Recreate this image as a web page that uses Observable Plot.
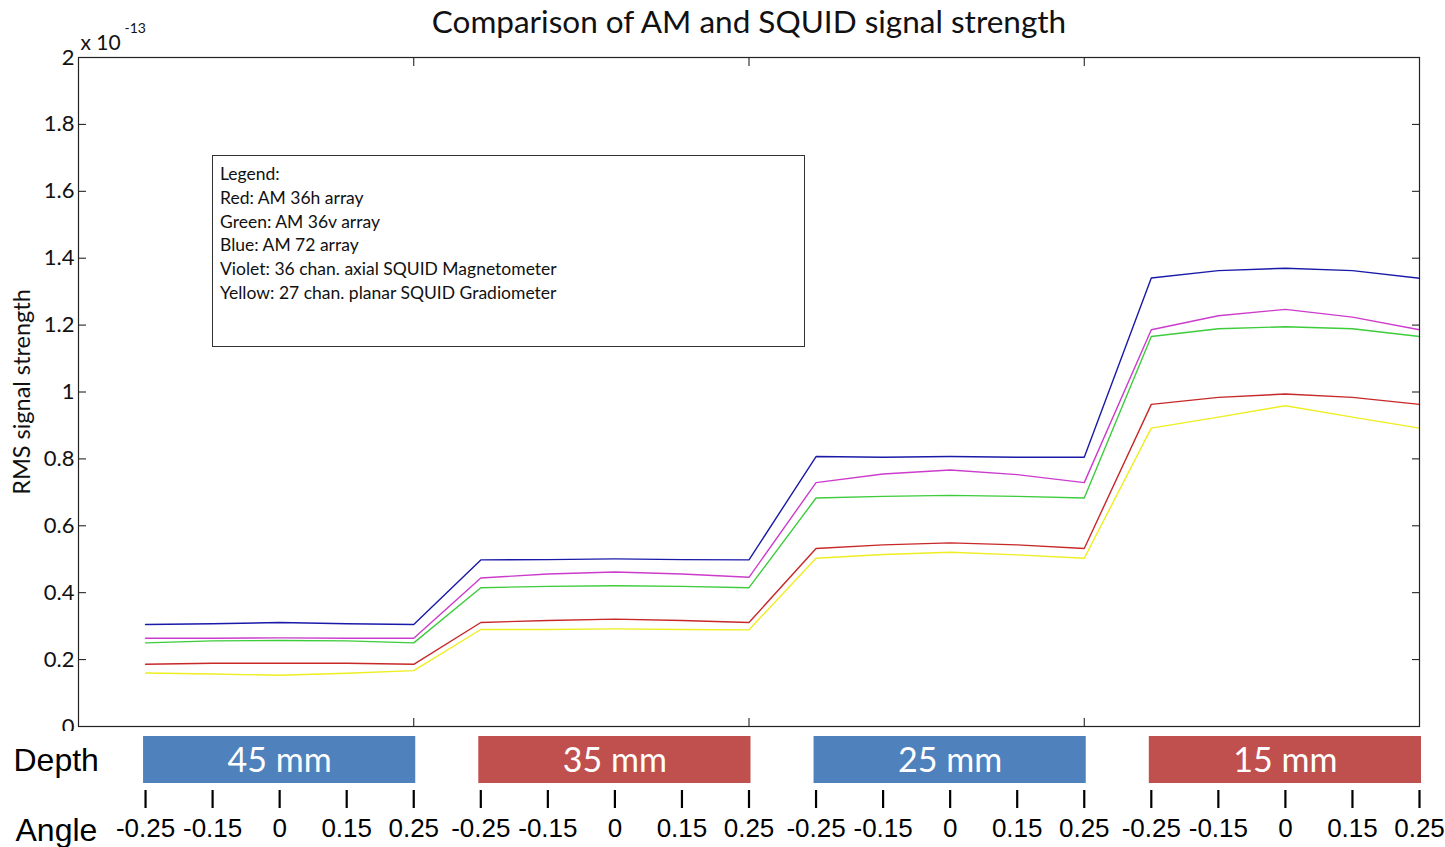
<!DOCTYPE html>
<html>
<head>
<meta charset="utf-8">
<script src="https://cdn.jsdelivr.net/npm/d3@7"></script>
<script src="https://cdn.jsdelivr.net/npm/@observablehq/plot@0.6"></script>
<style>
  html, body { margin: 0; padding: 0; background: white; }
  #wrap { position: relative; width: 1445px; height: 847px; overflow: hidden; background: white; }
  #legend {
    position: absolute; left: 212px; top: 155px; width: 593px; height: 192px;
    border: 1px solid #333; background: white;
    font-family: Lato, "Open Sans", sans-serif; font-size: 17.5px; color: #111;
    padding: 6px 0 0 7px; box-sizing: border-box; line-height: 23.8px;
  }
  #wrap svg { display: block; }
</style>
</head>
<body>
<div id="wrap"></div>
<script>
// ---- data ----
const depths = [45, 35, 25, 15];
const depthLabels = ["45 mm", "35 mm", "25 mm", "15 mm"];
const depthColors = ["#4f81bd", "#c0504d", "#4f81bd", "#c0504d"];
const angles = [-0.25, -0.15, 0, 0.15, 0.25];
const angleLabels = ["-0.25", "-0.15", "0", "0.15", "0.25"];
const yTicks = [0, 0.2, 0.4, 0.6, 0.8, 1, 1.2, 1.4, 1.6, 1.8, 2];
const sectionTicks = [5, 10, 15];

const seriesNames = ["AM 36h array", "AM 36v array", "AM 72 array", "36 chan. axial SQUID Magnetometer", "27 chan. planar SQUID Gradiometer"];
const seriesColors = ["#c82828", "#3ccc3c", "#1a1aa8", "#cc3ccc", "#eeee22"];
const legendLines = [
  "Legend:",
  "Red: AM 36h array",
  "Green: AM 36v array",
  "Blue: AM 72 array",
  "Violet: 36 chan. axial SQUID Magnetometer",
  "Yellow: 27 chan. planar SQUID Gradiometer"
];

// RMS signal strength (x 1e-13), per depth section (45,35,25,15 mm), per angle
const red    = [0.186,0.189,0.189,0.189,0.186, 0.311,0.317,0.321,0.317,0.311, 0.532,0.543,0.549,0.543,0.532, 0.963,0.984,0.994,0.984,0.963];
const green  = [0.250,0.256,0.257,0.256,0.250, 0.415,0.419,0.421,0.419,0.415, 0.683,0.688,0.691,0.688,0.683, 1.166,1.189,1.195,1.189,1.166];
const blue   = [0.305,0.307,0.311,0.307,0.305, 0.498,0.499,0.501,0.499,0.498, 0.807,0.805,0.807,0.805,0.805, 1.341,1.363,1.370,1.363,1.340];
const violet = [0.264,0.264,0.265,0.264,0.264, 0.444,0.456,0.462,0.456,0.446, 0.729,0.755,0.767,0.753,0.729, 1.186,1.228,1.247,1.224,1.186];
const yellow = [0.160,0.157,0.153,0.159,0.167, 0.290,0.290,0.292,0.290,0.289, 0.503,0.514,0.521,0.513,0.503, 0.892,0.925,0.959,0.925,0.892];

const seriesValues = [red, green, blue, violet, yellow];

// ---- build table ----
const rows = [];
seriesNames.forEach((name, s) => {
  seriesValues[s].forEach((v, k) => {
    const sec = Math.floor(k / angles.length);
    const a = k % angles.length;
    rows.push({series: name, idx: k + 1, depth: depths[sec], angle: angles[a], value: v});
  });
});
const depthRows = depths.map((d, i) => ({
  depth: d, label: depthLabels[i], color: depthColors[i],
  x1: i * angles.length + 1, x2: (i + 1) * angles.length
}));
const angleIdx = d3.range(1, depths.length * angles.length + 1);

const W = 1445;
const ML = 78, MR = 26;
const blank = () => "";

const main = Plot.plot({
  width: W, height: 731,
  marginLeft: ML, marginRight: MR, marginTop: 57, marginBottom: 5,
  style: {fontFamily: "Lato, 'Open Sans', sans-serif", fontSize: "22px", color: "#111", background: "white"},
  x: {domain: [0, 20]},
  y: {domain: [0, 2]},
  color: {domain: seriesNames, range: seriesColors},
  marks: [
    Plot.axisY({anchor: "left", ticks: yTicks, tickSize: -8, tickPadding: 12, tickFormat: d => String(d), label: null, fontSize: 22}),
    Plot.axisY({anchor: "right", ticks: yTicks, tickSize: -8, tickFormat: blank, label: null}),
    Plot.axisX({anchor: "top", ticks: sectionTicks, tickSize: -8, tickFormat: blank, label: null}),
    Plot.axisX({anchor: "bottom", ticks: sectionTicks, tickSize: -8, tickFormat: blank, label: null}),
    Plot.line(rows, {x: "idx", y: "value", z: "series", stroke: "series", strokeWidth: 1.4}),
    Plot.frame({stroke: "#222", strokeWidth: 1.2}),
    Plot.text(["Comparison of AM and SQUID signal strength"], {frameAnchor: "top", lineAnchor: "middle", dy: -35, fontSize: 31.5, text: d => d, fill: "#111"}),
    Plot.text(["RMS signal strength"], {frameAnchor: "left", textAnchor: "middle", lineAnchor: "middle", dx: -56, rotate: -90, fontSize: 23.5, text: d => d, fill: "#111"}),
    Plot.text(["x 10"], {frameAnchor: "top-left", textAnchor: "start", lineAnchor: "bottom", dx: 2, dy: -8, fontSize: 21, text: d => d, fill: "#111"}),
    Plot.text(["-13"], {frameAnchor: "top-left", textAnchor: "start", lineAnchor: "bottom", dx: 46, dy: -25, fontSize: 14, text: d => d, fill: "#111"})
  ]
});

const bottom = Plot.plot({
  width: W, height: 116,
  marginLeft: ML, marginRight: MR, marginTop: 5, marginBottom: 57,
  style: {fontFamily: "'Liberation Sans', Arial, sans-serif", fontSize: "26px", color: "#000", background: "white"},
  x: {domain: [0, 20]},
  marks: [
    Plot.rect(depthRows, {x1: "x1", x2: "x2", fill: "color", insetBottom: 7, insetLeft: -2, insetRight: -2}),
    Plot.text(depthRows, {x: d => (d.x1 + d.x2) / 2, text: "label", fill: "white", fontSize: 34, dy: -2, fontFamily: "Lato, 'Open Sans', sans-serif"}),
    Plot.axisX({anchor: "bottom", ticks: angleIdx, tickSize: 18, tickPadding: 10, strokeWidth: 2.2,
      tickFormat: i => angleLabels[(i - 1) % angles.length], fontSize: 26, label: null}),
    Plot.text(["Depth"], {frameAnchor: "left", textAnchor: "start", dx: -65, dy: -3, fontSize: 32, text: d => d, fill: "#000"}),
    Plot.text(["Angle"], {frameAnchor: "bottom-left", textAnchor: "start", dx: -63, dy: 50, fontSize: 32, text: d => d, fill: "#000"})
  ]
});

const wrap = document.getElementById("wrap");
wrap.appendChild(main);
wrap.appendChild(bottom);
const leg = document.createElement("div");
leg.id = "legend";
leg.innerHTML = legendLines.map(t => `<div>${t}</div>`).join("");
wrap.appendChild(leg);
</script>
</body>
</html>
